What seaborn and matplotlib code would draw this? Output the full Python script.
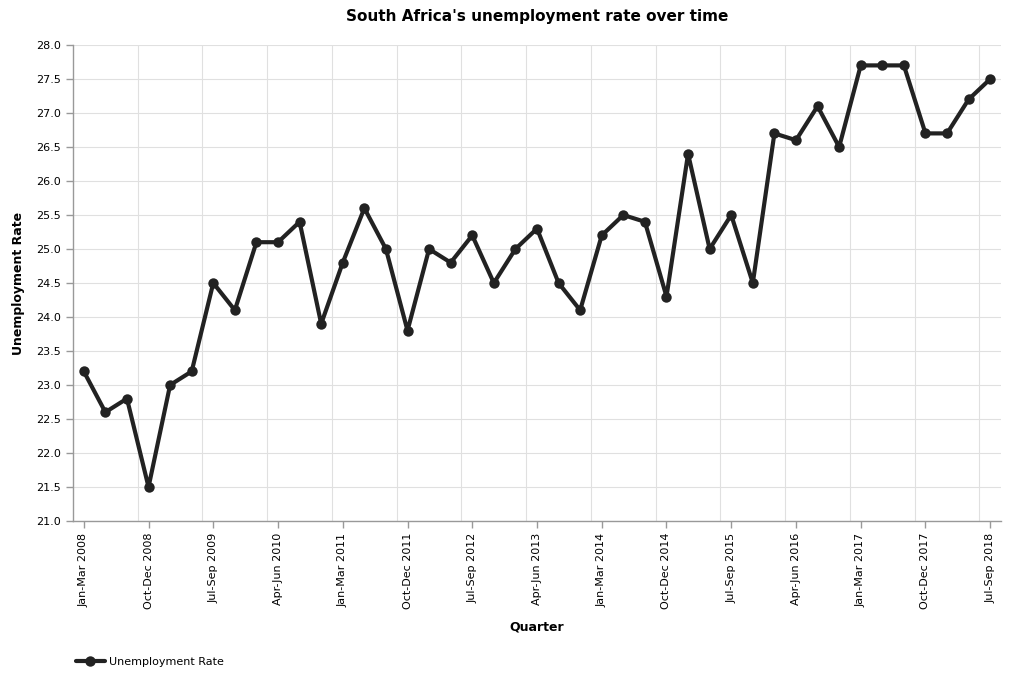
import matplotlib
matplotlib.use("Agg")
import matplotlib.pyplot as plt
import seaborn as sns
import pandas as pd
import numpy as np
from matplotlib.ticker import FixedLocator, MultipleLocator

quarters_prefix = ["Jan-Mar", "Apr-Jun", "Jul-Sep", "Oct-Dec"]
years = list(range(2008, 2019))
quarters = [f"{q} {y}" for y in years for q in quarters_prefix][:43]

rates = [23.2, 22.6, 22.8, 21.5, 23.0, 23.2, 24.5, 24.1, 25.1, 25.1,
         25.4, 23.9, 24.8, 25.6, 25.0, 23.8, 25.0, 24.8, 25.2, 24.5,
         25.0, 25.3, 24.5, 24.1, 25.2, 25.5, 25.4, 24.3, 26.4, 25.0,
         25.5, 24.5, 26.7, 26.6, 27.1, 26.5, 27.7, 27.7, 27.7, 26.7,
         26.7, 27.2, 27.5]

df = pd.DataFrame({"Quarter": quarters, "Unemployment Rate": rates})
df["idx"] = range(len(df))

sns.set_style("white")
plt.rcParams["font.family"] = ["DejaVu Sans"]
plt.rcParams["text.color"] = "black"
plt.rcParams["axes.labelcolor"] = "black"
plt.rcParams["xtick.color"] = "#999999"
plt.rcParams["ytick.color"] = "#999999"
plt.rcParams["xtick.labelcolor"] = "black"
plt.rcParams["ytick.labelcolor"] = "black"

fig = plt.figure(figsize=(10.11, 6.82), dpi=100)
ax = fig.add_axes([73/1011, 1-521/682, (1001-73)/1011, (521-45)/682])

sns.lineplot(data=df, x="idx", y="Unemployment Rate", ax=ax, color="#222222",
             linewidth=3.0, marker="o", markersize=7.5, markeredgewidth=0,
             label="Unemployment Rate")

ax.set_xlim(-0.5, 42.5)
ax.set_ylim(21.0, 28.0)
ax.yaxis.set_major_locator(MultipleLocator(0.5))
ax.yaxis.set_major_formatter(matplotlib.ticker.FormatStrFormatter("%.1f"))

major = list(range(0, 43, 3))
ax.xaxis.set_major_locator(FixedLocator(major))
ax.set_xticklabels([quarters[i] for i in major], rotation=90, fontsize=8)
ax.xaxis.set_minor_locator(FixedLocator([i + 2.5 for i in range(0, 42, 3)]))
ax.tick_params(axis="y", labelsize=8, length=5, color="#999999", labelcolor="black", width=1, direction="out", left=True)
ax.tick_params(axis="x", which="major", length=5, color="#999999", labelcolor="black", width=1, direction="out", bottom=True)
ax.tick_params(axis="x", which="minor", length=0)

ax.grid(True, axis="y", which="major", color="#e0e0e0", linewidth=0.8)
ax.grid(True, axis="x", which="minor", color="#e0e0e0", linewidth=0.8)
ax.grid(False, axis="x", which="major")
ax.set_axisbelow(True)

for s in ["top", "right"]:
    ax.spines[s].set_visible(False)
for s in ["left", "bottom"]:
    ax.spines[s].set_color("#999999")
    ax.spines[s].set_linewidth(1)

ax.set_xlabel("Quarter", fontsize=9, fontweight="bold", labelpad=8, color="black")
ax.set_ylabel("Unemployment Rate", fontsize=9, fontweight="bold", labelpad=8, color="black")
ax.set_title("South Africa's unemployment rate over time", fontsize=11, fontweight="bold",
             color="black", pad=17)

ax.legend(loc="center left", bbox_to_anchor=(66/1011, 20/682), bbox_transform=fig.transFigure,
          frameon=False, fontsize=8, handlelength=2.6, handletextpad=0.4, labelcolor="black")

fig.savefig("out.png", dpi=100)
